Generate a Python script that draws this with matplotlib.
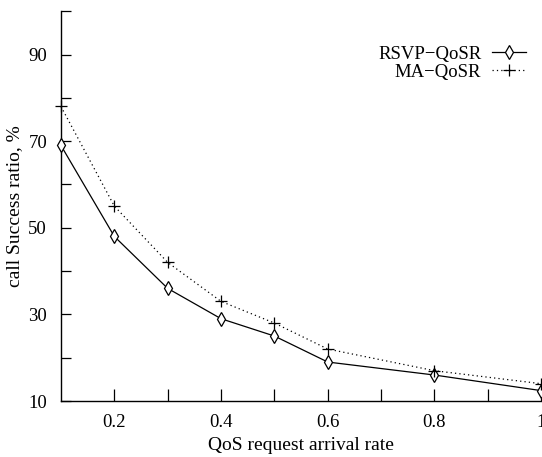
import matplotlib
matplotlib.use('Agg')
import matplotlib.pyplot as plt
import numpy as np

# arrival rate vs call success ratio
rate = [0.1, 0.2, 0.3, 0.4, 0.5, 0.6, 0.8, 1.0]
rsvp_qosr = [69, 48, 36, 29, 25, 19, 16, 12.4]
ma_qosr = [78, 55, 42, 33, 28, 22, 17, 14]

x_ticks = [0.2, 0.4, 0.6, 0.8, 1.0]
x_tick_labels = ['0.2', '0.4', '0.6', '0.8', '1']
y_ticks = [10, 30, 50, 70, 90]

plt.rcParams['font.family'] = ['Liberation Serif', 'DejaVu Serif']

fig = plt.figure(figsize=(5.42, 4.57), dpi=100)
ax = fig.add_axes([0.1125, 0.1225, 0.886, 0.853])

ax.plot(rate, rsvp_qosr, color='black', lw=0.9, marker='d', markersize=7,
        markerfacecolor='white', markeredgecolor='black', markeredgewidth=0.9,
        label='RSVP\u2212QoSR', clip_on=False, zorder=3)
ax.plot(rate, ma_qosr, color='black', lw=0.9, ls=(0, (1, 2.5)), marker='+',
        markersize=8, markeredgewidth=0.9, label='MA\u2212QoSR',
        clip_on=False, zorder=3)

ax.set_xlim(0.1, 1.0)
ax.set_ylim(10, 100)
ax.set_xticks(x_ticks)
ax.set_xticklabels(x_tick_labels)
ax.set_xticks([0.3, 0.5, 0.7, 0.9], minor=True)
ax.set_yticks(y_ticks)
ax.set_yticks([20, 40, 60, 80, 100], minor=True)

for s in ['top', 'right']:
    ax.spines[s].set_visible(False)
for s in ['left', 'bottom']:
    ax.spines[s].set_linewidth(1.0)

ax.tick_params(axis='both', which='both', direction='in', labelsize=13.5, width=0.9)
ax.tick_params(axis='x', which='both', length=9, pad=9)
ax.tick_params(axis='y', which='both', length=7, pad=10)

ax.set_xlabel('QoS request arrival rate', fontsize=14, labelpad=5)
ax.set_ylabel('call Success ratio, %', fontsize=14, labelpad=4)

ax.legend(loc='upper right', bbox_to_anchor=(1.004, 0.955), frameon=False,
          markerfirst=False, fontsize=13.5, handlelength=1.8,
          labelspacing=0.05, handletextpad=0.6)

plt.savefig('out.png', dpi=100)
plt.close('all')
